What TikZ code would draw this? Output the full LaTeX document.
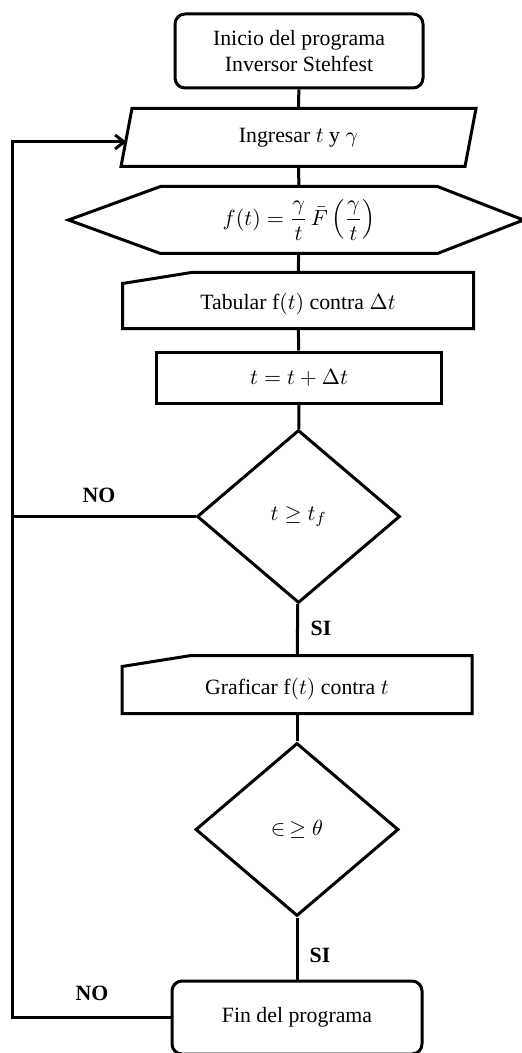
\documentclass[tikz,border=0pt]{standalone}
\usepackage{amsmath}
\usepackage{fontspec}
\setmainfont{Liberation Serif}
\usetikzlibrary{shapes.geometric,arrows.meta}
\begin{document}
\begin{tikzpicture}[x=0.5pt, y=-0.5pt, line width=1.5pt,
	font=\fontsize{10.9}{13}\selectfont,
	term/.style={draw, rounded corners=5pt, align=center, inner sep=0pt},
	body/.style={inner sep=0pt},
	proc/.style={draw, inner sep=0pt},
	cond/.style={draw, diamond, inner sep=0pt, minimum width=101.5pt, minimum height=86.5pt},
	lowtext/.style={text height=12pt, text depth=2.5pt},
	lbl/.style={font=\fontsize{10.9}{13}\selectfont\bfseries}]
	\useasboundingbox (0,0) rectangle (522,1053);
	\node[term, minimum width=124pt, minimum height=37pt] (inicio) at (299,51) {Inicio del programa\\Inversor Stehfest};
	\node[body, minimum width=170.5pt, minimum height=27.5pt] (ingresar) at (298.5,137.5) {Ingresar $t$ y $\gamma$};
	\draw ([xshift=-2.75pt]ingresar.south west) -- ([xshift=2.75pt]ingresar.north west) -- ([xshift=2.75pt]ingresar.north east) -- ([xshift=-2.75pt]ingresar.south east) -- cycle;
	\node[body, minimum width=137pt, minimum height=32pt] (formula) at (299,220) {$f(t)=\dfrac{\gamma}{t}\,\bar{F}\left(\dfrac{\gamma}{t}\right)$};
	\draw (formula.north west) -- (formula.north east) -- ([xshift=43pt]formula.east) -- (formula.south east) -- (formula.south west) -- ([xshift=-46pt]formula.west) -- cycle;
	\node[body, lowtext, minimum width=174pt, minimum height=26.5pt] (tabular) at (298,300.5) {Tabular f$(t)$ contra $\Delta t$};
	\draw ([yshift=-5.5pt]tabular.north west) -- ([xshift=34.5pt]tabular.north west) -- (tabular.north east) -- (tabular.south east) -- (tabular.south west) -- cycle;
	\node[proc, minimum width=142.5pt, minimum height=25.5pt] (paso) at (299,377.5) {$t=t+\Delta t$};
	\node[cond] (cond1) at (298.5,516.5) {$t\geq t_f$};
	\node[body, lowtext, minimum width=173.5pt, minimum height=27.5pt] (graficar) at (297,684.5) {Graficar f$(t)$ contra $t$};
	\draw ([yshift=-5.5pt]graficar.north west) -- ([xshift=34.5pt]graficar.north west) -- (graficar.north east) -- (graficar.south east) -- (graficar.south west) -- cycle;
	\node[cond] (cond2) at (297,829.5) {$\in\,\geq\theta$};
	\node[term, minimum width=125pt, minimum height=36.5pt] (fin) at (297,1017.5) {Fin del programa};
	\node[lbl] (no1) at (99,495) {NO};
	\node[lbl] (si1) at (321,628) {SI};
	\node[lbl] (si2) at (320,955) {SI};
	\node[lbl] (no2) at (92,993) {NO};
	\coordinate (lazo) at (12,142);
	\draw (inicio) -- (ingresar);
	\draw (ingresar) -- (formula);
	\draw (formula) -- (tabular);
	\draw (tabular) -- (paso);
	\draw (paso) -- (cond1);
	\draw (cond1) -- (graficar);
	\draw (graficar) -- (cond2);
	\draw (cond2) -- (fin);
	\draw (cond1.west) -- (cond1.west -| lazo);
	\draw[-{Straight Barb[length=4.5pt,width=7pt]}] (fin.west) -| (lazo) -- (lazo -| ingresar.west);
\end{tikzpicture}
\end{document}
